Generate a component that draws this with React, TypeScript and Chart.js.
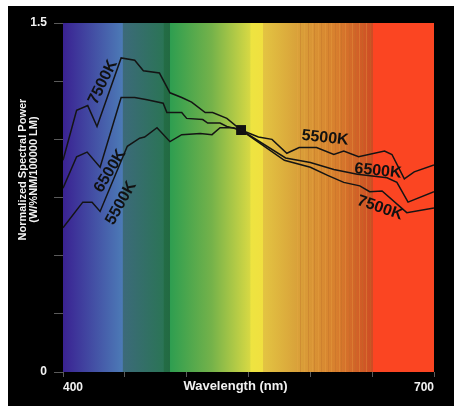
import React, { useEffect, useRef } from "react";
import { Chart, registerables } from "chart.js";

Chart.register(...registerables);

// ---- data ----
const wl5500 = [400, 416, 423.5, 430, 452, 462, 466, 476, 486.5, 496, 511, 520.5, 527, 537.5, 544, 558, 569, 581, 591, 605, 619, 627, 639, 660, 666, 676, 684, 700];
const val5500 = [0.62, 0.73, 0.73, 0.69, 0.97, 1.005, 1.01, 1.05, 0.99, 1.02, 1.025, 1.02, 1.05, 1.05, 1.04, 1.01, 1.0, 0.94, 0.965, 0.965, 0.935, 0.95, 0.925, 0.95, 0.935, 0.83, 0.86, 0.89];

const wl6500 = [400, 411, 419.5, 430, 447, 458, 468, 481, 484, 496, 500, 513, 517, 527, 532.5, 544, 580, 600, 619, 638, 662, 670, 679, 700];
const val6500 = [0.79, 0.925, 0.945, 0.88, 1.18, 1.18, 1.17, 1.155, 1.115, 1.115, 1.09, 1.085, 1.07, 1.07, 1.055, 1.04, 0.92, 0.9, 0.87, 0.85, 0.835, 0.815, 0.73, 0.775];

const wl7500 = [400, 411, 420, 427.5, 447, 458, 465, 478, 486.5, 496, 504, 515, 521, 532.5, 544, 579, 600, 614, 627, 640, 648, 658, 678, 700];
const val7500 = [0.91, 1.125, 1.145, 1.055, 1.35, 1.34, 1.295, 1.285, 1.2, 1.18, 1.16, 1.115, 1.115, 1.09, 1.04, 0.91, 0.88, 0.845, 0.815, 0.8, 0.775, 0.778, 0.685, 0.705];

const markerWl = [544];
const markerVal = [1.04];

// curve labels
const labelText = ["7500K", "6500K", "5500K", "5500K", "6500K", "7500K"];
const labelWl = [432.3, 438, 446.9, 611.9, 654.7, 656.3];
const labelVal = [1.246, 0.864, 0.726, 1.006, 0.864, 0.705];
const labelAngle = [-64, -59, -61, 6, 6, 19];

// axis
const xMin = 400;
const xMax = 700;
const xStep = 50;
const xLabelled = [400, 700];
const yMin = 0;
const yMax = 1.5;
const yStep = 0.25;
const yLabelled = [0, 1.5];
const xTitle = "Wavelength (nm)";
const yTitleLines = ["Normalized Spectral Power", "(W/%NM/100000 LM)"];

// spectrum background stops (wavelength -> colour)
const specWl = [400, 448, 448.6, 481, 482, 486.5, 486.6, 520, 551, 552, 561.5, 562, 589, 620, 650.4, 651, 700];
const specColor = ["#3a2292", "#4c7ab6", "#3c6a7a", "#2b7456", "#236c45", "#226a42", "#2e9e50", "#74b24a", "#d6d844", "#eee440", "#f0e040", "#e3c442", "#d9a23a", "#d8802e", "#cd4c24", "#fb4522", "#fb4522"];
const stripeWl = [589, 592, 595, 598, 601, 603, 606, 609, 612, 614, 617, 620, 623, 625, 628, 631, 634, 636, 639, 642, 645, 648];

const FONT = '"Liberation Sans", Arial, Helvetica, sans-serif';

export default function App() {
  const ref = useRef<HTMLCanvasElement>(null);

  useEffect(() => {
    document.body.style.margin = "0";
    const canvas = ref.current;
    if (!canvas) return;

    const decor = {
      id: "decor",
      beforeDraw(chart: any) {
        const ctx = chart.ctx;
        ctx.save();
        ctx.fillStyle = "#000";
        ctx.fillRect(0, 0, chart.width, chart.height);
        ctx.restore();
      },
      beforeDatasetsDraw(chart: any) {
        const ctx = chart.ctx;
        const { left, right, top, bottom } = chart.chartArea;
        const xs = chart.scales.x;
        ctx.save();
        const g = ctx.createLinearGradient(left, 0, right, 0);
        specWl.forEach((w, i) => {
          const p = (xs.getPixelForValue(w) - left) / (right - left);
          g.addColorStop(Math.min(1, Math.max(0, p)), specColor[i]);
        });
        ctx.fillStyle = g;
        ctx.fillRect(left, top, right - left, bottom - top);
        ctx.lineWidth = 1;
        stripeWl.forEach((w, i) => {
          const x = Math.round(xs.getPixelForValue(w)) + 0.5;
          ctx.strokeStyle = i % 2 ? "rgba(190,110,40,0.35)" : "rgba(235,170,70,0.3)";
          ctx.beginPath();
          ctx.moveTo(x, top);
          ctx.lineTo(x, bottom);
          ctx.stroke();
        });
        ctx.restore();
      },
      afterDraw(chart: any) {
        const ctx = chart.ctx;
        const xs = chart.scales.x;
        const ys = chart.scales.y;
        const { left, right, top, bottom } = chart.chartArea;
        ctx.save();
        // curve labels
        ctx.fillStyle = "#111";
        ctx.font = `bold 16px ${FONT}`;
        ctx.textAlign = "center";
        ctx.textBaseline = "middle";
        labelText.forEach((t, i) => {
          ctx.save();
          ctx.translate(xs.getPixelForValue(labelWl[i]), ys.getPixelForValue(labelVal[i]));
          ctx.rotate((labelAngle[i] * Math.PI) / 180);
          ctx.fillText(t, 0, 0);
          ctx.restore();
        });
        // x title
        ctx.fillStyle = "#f2f2f2";
        ctx.font = `bold 13px ${FONT}`;
        ctx.fillText(xTitle, left + (right - left) * 0.465, bottom + 14);
        // y title
        ctx.font = `bold 11px ${FONT}`;
        ctx.save();
        ctx.translate(left - 35, top + (bottom - top) * 0.42);
        ctx.rotate(-Math.PI / 2);
        ctx.fillText(yTitleLines[0], 0, -5);
        ctx.fillText(yTitleLines[1], 0, 5.5);
        ctx.restore();
        ctx.restore();
      },
    };

    const chart = new Chart(canvas, {
      type: "scatter",
      data: {
        datasets: [
          {
            label: "5500K",
            data: wl5500.map((x, i) => ({ x, y: val5500[i] })),
            showLine: true,
            borderColor: "#141414",
            borderWidth: 1.5,
            pointRadius: 0,
          },
          {
            label: "6500K",
            data: wl6500.map((x, i) => ({ x, y: val6500[i] })),
            showLine: true,
            borderColor: "#141414",
            borderWidth: 1.5,
            pointRadius: 0,
          },
          {
            label: "7500K",
            data: wl7500.map((x, i) => ({ x, y: val7500[i] })),
            showLine: true,
            borderColor: "#141414",
            borderWidth: 1.5,
            pointRadius: 0,
          },
          {
            label: "marker",
            data: markerWl.map((x, i) => ({ x, y: markerVal[i] })),
            showLine: false,
            pointStyle: "rect",
            pointRadius: 7,
            backgroundColor: "#111",
            borderColor: "#111",
            borderWidth: 0,
          },
        ],
      },
      options: {
        responsive: false,
        animation: false,
        devicePixelRatio: 1,
        layout: { padding: { left: 0, top: 17, right: 20, bottom: 0 } },
        plugins: { legend: { display: false }, tooltip: { enabled: false } },
        scales: {
          x: {
            type: "linear",
            min: xMin,
            max: xMax,
            afterFit: (s: any) => {
              s.height = 34;
            },
            ticks: {
              stepSize: xStep,
              autoSkip: false,
              maxRotation: 0,
              align: "inner",
              padding: 3,
              color: "#f2f2f2",
              font: { family: FONT, size: 12, weight: "bold" },
              callback: (v: any) => (xLabelled.includes(Number(v)) ? String(v) : ""),
            },
            grid: { drawOnChartArea: false, drawTicks: true, tickLength: 5, color: "#5a5a5a" },
            border: { display: false },
          },
          y: {
            min: yMin,
            max: yMax,
            afterFit: (s: any) => {
              s.width = 55;
            },
            ticks: {
              stepSize: yStep,
              autoSkip: false,
              padding: 7,
              color: "#f2f2f2",
              font: { family: FONT, size: 12, weight: "bold" },
              callback: (v: any) => (yLabelled.includes(Number(v)) ? String(v) : ""),
            },
            grid: { drawOnChartArea: false, drawTicks: true, tickLength: 9, color: "#5a5a5a" },
            border: { display: false },
          },
        },
      },
      plugins: [decor],
    } as any);

    return () => chart.destroy();
  }, []);

  return (
    <div style={{ paddingTop: 6, paddingLeft: 8, background: "#fff" }}>
      <canvas ref={ref} width={446} height={400} style={{ display: "block" }} />
    </div>
  );
}
